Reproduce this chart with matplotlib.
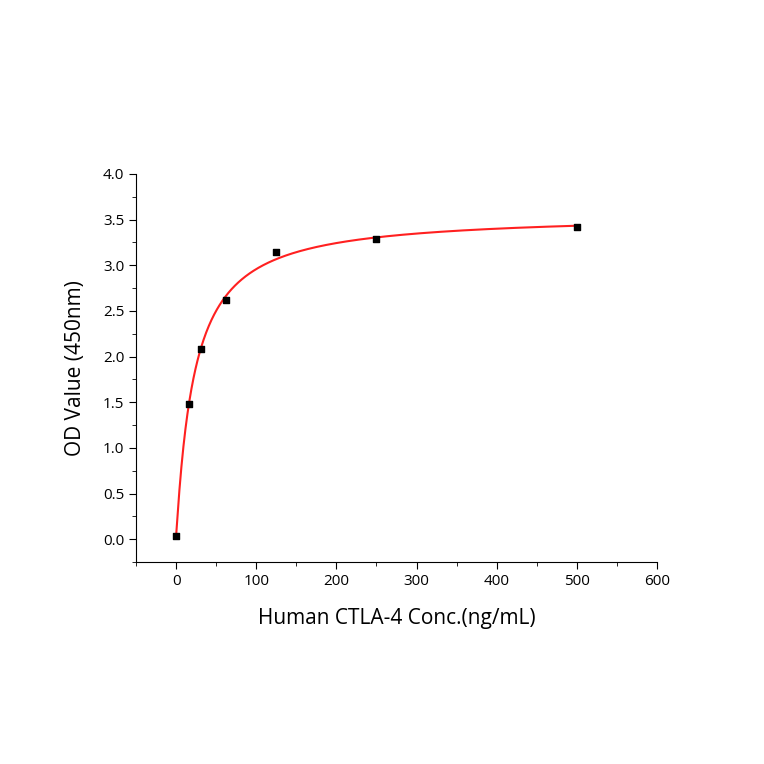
import numpy as np
import matplotlib
matplotlib.use("Agg")
import matplotlib.pyplot as plt
from matplotlib.ticker import MultipleLocator

conc = [0, 15.625, 31.25, 62.5, 125, 250, 500]
od = [0.03, 1.48, 2.08, 2.62, 3.14, 3.29, 3.42]

plt.rcParams['font.family'] = ['Open Sans', 'DejaVu Sans']
fig = plt.figure(figsize=(7.64, 7.64), dpi=100)
ax = fig.add_axes([0.178, 0.2644, 0.682, 0.508])

# least-squares fit of y = a*x^n/(b^n+x^n) + c
x = np.array(conc, float); y = np.array(od, float)
best = None
for b in np.linspace(5, 100, 191):
    for n in np.linspace(0.6, 1.6, 51):
        f = x**n / (b**n + x**n)
        A = np.vstack([f, np.ones_like(f)]).T
        coef, *_ = np.linalg.lstsq(A, y, rcond=None)
        r = np.sum((A @ coef - y)**2)
        if best is None or r < best[0]:
            best = (r, b, n, coef)
_, b, n, (a, c) = best
xs = np.linspace(0, 500, 600)
ax.plot(xs, a*xs**n/(b**n+xs**n)+c, color='#ff2020', lw=1.5, zorder=2)
ax.scatter(conc, od, marker='s', s=22, color='black', zorder=3)

ax.set_xlim(-50, 600)
ax.set_ylim(-0.25, 4.0)
ax.xaxis.set_major_locator(MultipleLocator(100))
ax.xaxis.set_minor_locator(MultipleLocator(50))
ax.yaxis.set_major_locator(MultipleLocator(0.5))
ax.yaxis.set_minor_locator(MultipleLocator(0.25))
ax.yaxis.set_major_formatter(matplotlib.ticker.FormatStrFormatter('%.1f'))
for s in ['top', 'right']:
    ax.spines[s].set_visible(False)
ax.tick_params(which='both', direction='out', labelsize=11)
ax.tick_params(which='major', length=5)
ax.tick_params(which='minor', length=3)
ax.set_xlabel('Human CTLA-4 Conc.(ng/mL)', fontsize=15, labelpad=14)
ax.set_ylabel('OD Value (450nm)', fontsize=15, labelpad=12)
fig.savefig('out.png', dpi=100)
